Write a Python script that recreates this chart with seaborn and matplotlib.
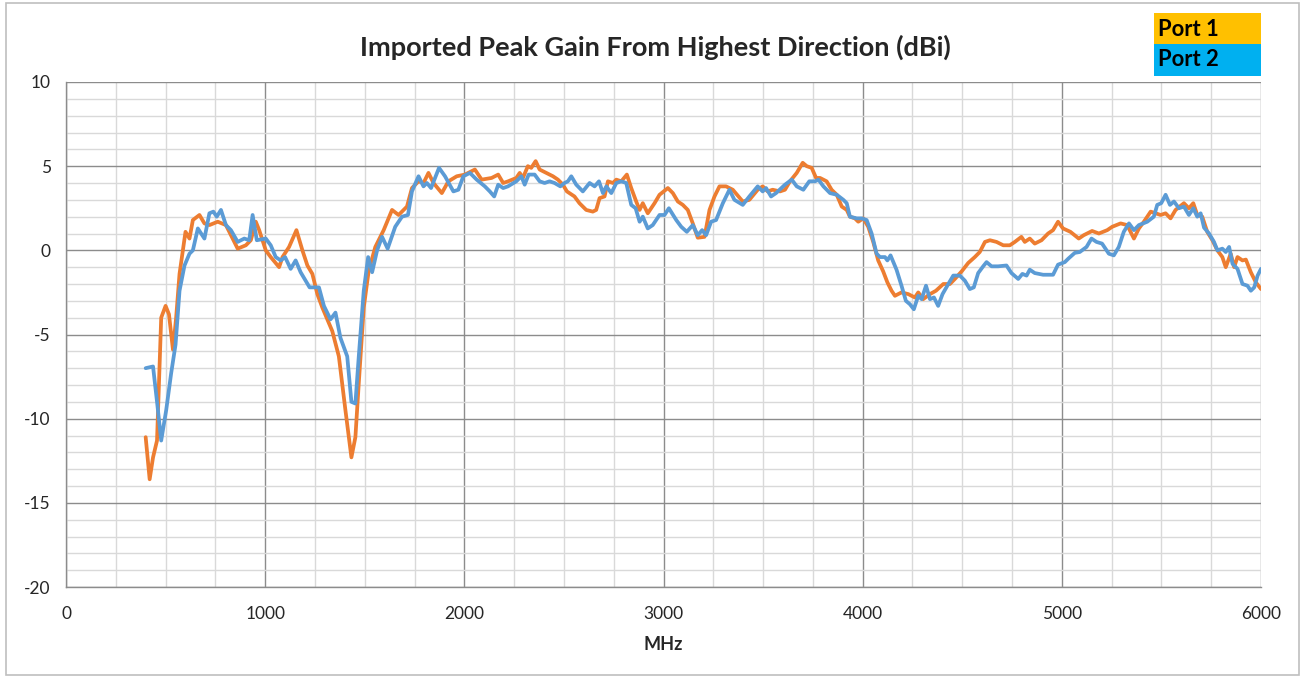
import numpy as np
import pandas as pd
import matplotlib
matplotlib.use("Agg")
import matplotlib.pyplot as plt
from matplotlib.patches import Rectangle
from matplotlib.ticker import MultipleLocator
import seaborn as sns

# Port 1 trace (MHz, dBi)
port1_mhz = [400, 420, 437, 457, 478, 500, 517, 537, 553, 570, 600, 620, 637, 670, 695,
             720, 762, 803, 837, 862, 903, 928, 953, 970, 1003, 1028, 1070, 1087, 1120,
             1157, 1187, 1212, 1237, 1262, 1287, 1312, 1337, 1370, 1403, 1433, 1453,
             1470, 1495, 1520, 1553, 1595, 1637, 1670, 1712, 1737, 1770, 1795, 1820,
             1845, 1887, 1920, 1962, 2003, 2053, 2087, 2137, 2170, 2195, 2220, 2261,
             2278, 2294, 2319, 2336, 2358, 2378, 2411, 2445, 2470, 2495, 2515, 2553,
             2578, 2612, 2645, 2662, 2679, 2704, 2721, 2746, 2763, 2788, 2816, 2838,
             2863, 2880, 2896, 2921, 2955, 2980, 3022, 3047, 3072, 3097, 3122, 3147,
             3172, 3206, 3231, 3256, 3281, 3314, 3348, 3398, 3431, 3473, 3498, 3523,
             3548, 3585, 3610, 3635, 3669, 3699, 3719, 3744, 3766, 3786, 3819, 3844,
             3870, 3895, 3920, 3936, 3961, 3978, 4003, 4028, 4053, 4078, 4103, 4124,
             4145, 4162, 4195, 4229, 4262, 4279, 4304, 4338, 4368, 4405, 4438, 4463,
             4497, 4530, 4563, 4588, 4614, 4639, 4672, 4706, 4739, 4764, 4797, 4814,
             4839, 4864, 4898, 4931, 4956, 4981, 5006, 5043, 5085, 5110, 5152, 5186,
             5228, 5253, 5295, 5328, 5362, 5387, 5412, 5446, 5471, 5496, 5521, 5546,
             5571, 5613, 5638, 5660, 5680, 5705, 5730, 5756, 5781, 5806, 5823, 5848,
             5865, 5882, 5907, 5924, 5949, 5974, 6000]
port1_gain = [-11.1, -13.6, -12.3, -11.3, -4.0, -3.3, -3.8, -5.9, -4.0, -1.4, 1.1, 0.7, 1.8,
              2.1, 1.6, 1.5, 1.7, 1.5, 0.7, 0.1, 0.3, 0.6, 1.7, 1.2, 0.0, -0.4, -1.0, -0.4,
              0.2, 1.2, 0.0, -0.9, -1.4, -2.6, -3.4, -4.1, -4.8, -6.3, -9.5, -12.3, -11.1,
              -7.9, -3.4, -1.2, 0.2, 1.2, 2.4, 2.1, 2.6, 3.7, 4.1, 4.0, 4.6, 4.0, 3.4, 4.1,
              4.4, 4.5, 4.8, 4.2, 4.3, 4.5, 4.0, 4.1, 4.3, 4.6, 4.3, 5.0, 4.9, 5.3, 4.8,
              4.6, 4.4, 4.2, 3.9, 3.5, 3.2, 2.8, 2.4, 2.3, 2.4, 3.1, 3.2, 4.1, 4.0, 4.2,
              4.1, 4.5, 3.7, 2.9, 2.4, 2.8, 2.2, 2.8, 3.3, 3.7, 3.4, 2.9, 2.7, 2.4, 1.6,
              0.75, 0.8, 2.4, 3.2, 3.8, 3.8, 3.6, 2.9, 3.0, 3.6, 3.8, 3.5, 3.6, 3.5, 3.6,
              4.1, 4.6, 5.2, 5.0, 4.9, 4.3, 4.3, 4.1, 3.6, 3.3, 2.6, 2.4, 2.0, 1.9, 1.7,
              1.9, 1.4, 0.5, -0.6, -1.25, -1.9, -2.4, -2.7, -2.5, -2.6, -2.8, -2.5, -2.9,
              -2.6, -2.4, -2.0, -2.0, -1.7, -1.25, -0.75, -0.4, -0.1, 0.5, 0.6, 0.5, 0.3,
              0.3, 0.5, 0.8, 0.5, 0.7, 0.4, 0.6, 1.0, 1.2, 1.7, 1.3, 1.1, 0.7, 0.9, 1.15,
              1.0, 1.2, 1.4, 1.6, 1.5, 0.7, 1.3, 1.7, 2.3, 2.2, 2.1, 2.2, 1.9, 2.4, 2.8,
              2.5, 2.8, 2.1, 2.0, 1.1, 0.6, 0.0, -0.4, -1.0, -0.2, -1.0, -0.4, -0.6,
              -0.55, -1.3, -1.9, -2.3]

# Port 2 trace (MHz, dBi)
port2_mhz = [400, 437, 458, 478, 503, 528, 550, 570, 595, 620, 637, 662, 695, 720, 740,
             757, 778, 803, 828, 862, 895, 920, 937, 958, 1003, 1028, 1053, 1078, 1100,
             1128, 1153, 1178, 1203, 1223, 1270, 1295, 1328, 1353, 1378, 1412, 1433,
             1453, 1470, 1495, 1517, 1537, 1562, 1587, 1615, 1653, 1687, 1717, 1737,
             1770, 1795, 1812, 1833, 1873, 1903, 1945, 1970, 1995, 2028, 2062, 2103,
             2128, 2150, 2170, 2195, 2219, 2261, 2286, 2303, 2323, 2353, 2378, 2403,
             2428, 2453, 2482, 2503, 2520, 2537, 2562, 2595, 2629, 2654, 2676, 2696,
             2713, 2738, 2763, 2788, 2813, 2838, 2860, 2880, 2896, 2921, 2946, 2980,
             3005, 3027, 3064, 3089, 3117, 3147, 3172, 3194, 3214, 3239, 3264, 3298,
             3331, 3356, 3398, 3431, 3473, 3498, 3515, 3540, 3565, 3610, 3644, 3669,
             3702, 3732, 3761, 3778, 3803, 3836, 3870, 3903, 3920, 3936, 3970, 3995,
             4020, 4045, 4070, 4087, 4112, 4124, 4140, 4170, 4195, 4217, 4237, 4257,
             4279, 4296, 4318, 4338, 4358, 4379, 4401, 4430, 4455, 4488, 4513, 4538,
             4558, 4580, 4605, 4622, 4647, 4680, 4722, 4747, 4781, 4802, 4823, 4839,
             4864, 4906, 4956, 4981, 5015, 5032, 5065, 5090, 5124, 5149, 5174, 5202,
             5236, 5261, 5286, 5311, 5337, 5362, 5387, 5429, 5462, 5479, 5499, 5521,
             5543, 5563, 5588, 5613, 5638, 5660, 5680, 5697, 5714, 5739, 5764, 5781,
             5806, 5823, 5840, 5857, 5882, 5907, 5932, 5949, 5966, 5983, 6000]
port2_gain = [-7.0, -6.9, -9.1, -11.3, -9.5, -7.3, -5.6, -2.4, -0.9, -0.2, 0.0, 1.3, 0.7,
              2.2, 2.3, 2.0, 2.4, 1.5, 1.2, 0.5, 0.7, 0.6, 2.1, 0.6, 0.7, 0.3, -0.4, -0.6,
              -0.4, -1.1, -0.6, -1.3, -1.8, -2.2, -2.2, -3.3, -4.1, -3.7, -5.2, -6.3,
              -9.0, -9.1, -6.3, -2.4, -0.4, -1.3, 0.0, 0.8, 0.1, 1.4, 2.0, 2.1, 3.5, 4.4,
              3.8, 4.0, 3.7, 4.9, 4.4, 3.5, 3.6, 4.4, 4.6, 4.2, 3.8, 3.5, 3.2, 3.9, 3.7,
              3.8, 4.1, 4.4, 3.9, 4.5, 4.5, 4.1, 4.0, 4.1, 4.0, 3.8, 4.0, 4.1, 4.4, 3.9,
              3.5, 4.0, 3.8, 4.1, 3.4, 3.8, 3.4, 4.0, 4.1, 4.0, 2.7, 2.5, 1.7, 2.0, 1.3,
              1.5, 2.1, 2.1, 2.5, 1.8, 1.4, 1.1, 1.5, 0.9, 1.2, 0.9, 1.7, 1.8, 2.8, 3.6,
              3.0, 2.7, 3.2, 3.8, 3.5, 3.7, 3.2, 3.4, 3.9, 4.2, 3.8, 3.6, 4.1, 4.1, 4.2,
              3.8, 3.4, 3.3, 3.0, 2.8, 2.0, 1.9, 1.9, 1.8, 1.0, -0.2, -0.4, -0.4, -0.6,
              -0.3, -1.15, -2.1, -3.0, -3.2, -3.5, -2.7, -2.9, -2.1, -2.9, -2.8, -3.3,
              -2.6, -2.0, -1.5, -1.5, -1.8, -2.3, -2.2, -1.35, -0.95, -0.7, -0.95, -0.95,
              -0.9, -1.35, -1.7, -1.4, -1.5, -1.15, -1.35, -1.45, -1.45, -0.85, -0.7,
              -0.5, -0.15, -0.1, 0.2, 0.7, 0.5, 0.4, -0.2, -0.3, 0.2, 1.1, 1.6, 1.2, 1.5,
              1.7, 2.0, 2.7, 2.8, 3.3, 2.7, 2.9, 2.5, 2.6, 2.1, 2.5, 2.0, 2.2, 1.35, 1.0,
              0.5, 0.0, 0.1, -0.1, 0.2, -0.8, -1.1, -2.0, -2.1, -2.4, -2.2, -1.5, -1.1]

series_names = ["Port 1", "Port 2"]
line_colors = ["#ED7D31", "#5B9BD5"]
legend_colors = ["#FFC000", "#00B0F0"]

df = pd.concat([
    pd.DataFrame({"MHz": port1_mhz, "gain": port1_gain, "port": series_names[0]}),
    pd.DataFrame({"MHz": port2_mhz, "gain": port2_gain, "port": series_names[1]}),
])

sns.set_style("white")
plt.rcParams["font.family"] = ["Lato", "DejaVu Sans"]
plt.rcParams["axes.unicode_minus"] = False

fig = plt.figure(figsize=(13.05, 6.79), dpi=100, facecolor="white")
# chart-area border like Excel
fig.patches.append(Rectangle((6 / 1305, 4 / 679), 1293 / 1305, 672 / 679,
                             transform=fig.transFigure, fill=False,
                             edgecolor="#BFBFBF", linewidth=1.2))

ax = fig.add_axes([66 / 1305, 1 - 587 / 679, 1195 / 1305, 505 / 679])
sns.lineplot(data=df, x="MHz", y="gain", hue="port", palette=line_colors,
             estimator=None, sort=False, linewidth=2.7, legend=False, ax=ax)

ax.set_xlim(0, 6000)
ax.set_ylim(-20, 10)
ax.xaxis.set_major_locator(MultipleLocator(1000))
ax.xaxis.set_minor_locator(MultipleLocator(250))
ax.yaxis.set_major_locator(MultipleLocator(5))
ax.yaxis.set_minor_locator(MultipleLocator(1))
ax.grid(which="minor", color="#D9D9D9", linewidth=1.0)
ax.grid(which="major", color="#8C8C8C", linewidth=1.0)
ax.set_axisbelow(True)
for side in ["top", "right"]:
    ax.spines[side].set_visible(False)
for side in ["left", "bottom"]:
    ax.spines[side].set_color("#8C8C8C")
    ax.spines[side].set_linewidth(1.0)
ax.tick_params(axis="y", which="major", length=6, color="#8C8C8C", pad=5, labelsize=12.5)
ax.tick_params(axis="x", which="major", length=0, pad=14, labelsize=12.5)
ax.tick_params(which="minor", length=0)
ax.set_xlabel("MHz", fontsize=13, fontweight="bold", labelpad=10)
ax.set_ylabel("")

fig.text(655 / 1305, 1 - 47 / 679, "Imported Peak Gain From Highest Direction (dBi)",
         ha="center", va="center", fontsize=19.5, fontweight="bold")

# colour-block legend at top right
box_y = [13, 44]
for name, col, y0 in zip(series_names, legend_colors, box_y):
    fig.patches.append(Rectangle((1154 / 1305, 1 - (y0 + 32) / 679), 107 / 1305, 32 / 679,
                                 transform=fig.transFigure, facecolor=col,
                                 edgecolor="none"))
    fig.text(1158 / 1305, 1 - (y0 + 16) / 679, name, ha="left", va="center",
             fontsize=15.8, fontweight="bold", color="black")

fig.savefig("out.png", dpi=100, facecolor="white")
plt.close(fig)
